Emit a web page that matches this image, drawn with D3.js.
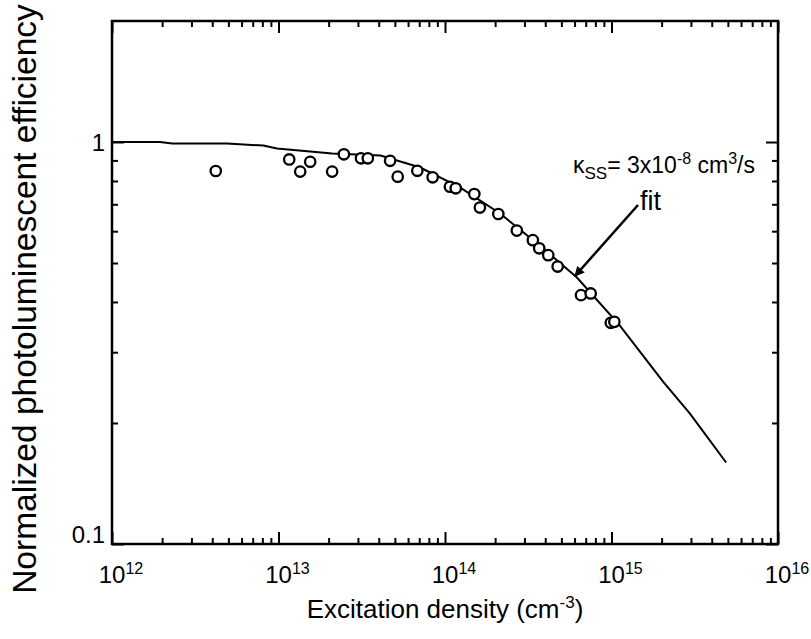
<!DOCTYPE html>
<html>
<head>
<meta charset="utf-8">
<script src="https://cdn.jsdelivr.net/npm/d3@7"></script>
<style>
  body { margin: 0; background: #fff; }
  text { font-family: "Liberation Sans", Arial, Helvetica, sans-serif; fill: #000; }
</style>
</head>
<body>
<div id="chart"></div>
<script>
// measured points
var density = [4.2e12, 1.16e13, 1.35e13, 1.55e13, 2.1e13, 2.47e13, 3.13e13, 3.44e13, 4.68e13, 5.2e13,
               6.82e13, 8.43e13, 1.07e14, 1.16e14, 1.5e14, 1.62e14, 2.09e14, 2.7e14, 3.37e14, 3.68e14,
               4.17e14, 4.75e14, 6.56e14, 7.5e14, 9.9e14, 1.04e15];
var efficiency = [0.847, 0.905, 0.844, 0.893, 0.844, 0.932, 0.911, 0.911, 0.898, 0.820,
                  0.848, 0.817, 0.774, 0.767, 0.742, 0.687, 0.662, 0.602, 0.570, 0.544,
                  0.523, 0.490, 0.416, 0.420, 0.355, 0.357];

// fit curve
var fitDensity = [1e12, 1.94e12, 2.3e12, 4.9e12, 8.1e12, 9.8e12, 2.1e13, 4.1e13, 7.1e13, 1.23e14,
                  2.14e14, 3.7e14, 6.2e14, 1.12e15, 2.04e15, 2.96e15, 4.88e15];
var fitEfficiency = [1.0, 1.0, 0.991, 0.991, 0.980, 0.963, 0.936, 0.926, 0.864, 0.771,
                     0.664, 0.553, 0.460, 0.350, 0.2535, 0.211, 0.1595];

var xExponents = [12, 13, 14, 15, 16];
var yMajor = [0.1, 1];
var yLabels = ["0.1", "1"];

var margin = { top: 21, right: 33, bottom: 95, left: 112 },
    W = 811, H = 639,
    width = W - margin.left - margin.right,
    height = H - margin.top - margin.bottom;

var svg = d3.select("#chart").append("svg")
    .attr("width", W).attr("height", H);

var g = svg.append("g")
    .attr("transform", "translate(" + margin.left + "," + margin.top + ")");

var x = d3.scaleLog().domain([1e12, 1e16]).range([0, width]);
var y = d3.scaleLog().domain([0.1, 2]).range([height, 0]);

var xMajor = xExponents.map(function (e) { return Math.pow(10, e); });
var xMinor = [];
for (var e = 12; e < 16; e++) {
    for (var k = 2; k <= 9; k++) xMinor.push(k * Math.pow(10, e));
}
var yMinor = [0.2, 0.3, 0.4, 0.5, 0.6, 0.7, 0.8, 0.9];

// inward ticks on all four sides
function tickSet(axisFn, scale, values, size, transform) {
    var a = g.append("g")
        .attr("transform", transform)
        .call(axisFn(scale).tickValues(values).tickSize(size).tickFormat(""));
    a.select(".domain").remove();
    a.selectAll("line").attr("stroke", "#000").attr("stroke-width", 2);
}
tickSet(d3.axisBottom, x, xMinor, -6, "translate(0," + height + ")");
tickSet(d3.axisBottom, x, xMajor, -12, "translate(0," + height + ")");
tickSet(d3.axisTop, x, xMinor, -6, "translate(0,0)");
tickSet(d3.axisTop, x, xMajor, -12, "translate(0,0)");
tickSet(d3.axisLeft, y, yMinor, -6, "translate(0,0)");
tickSet(d3.axisLeft, y, yMajor, -12, "translate(0,0)");
tickSet(d3.axisRight, y, yMinor, -6, "translate(" + width + ",0)");
tickSet(d3.axisRight, y, yMajor, -12, "translate(" + width + ",0)");

// frame
g.append("rect")
    .attr("x", 0).attr("y", 0)
    .attr("width", width).attr("height", height)
    .attr("fill", "none").attr("stroke", "#000").attr("stroke-width", 2.5);

// x tick labels 10^n
xExponents.forEach(function (e) {
    var t = g.append("text")
        .attr("x", x(Math.pow(10, e)) + 9)
        .attr("y", height + 39)
        .attr("text-anchor", "middle")
        .style("font-size", "24px");
    t.append("tspan").text("10");
    t.append("tspan").attr("dy", "-9").style("font-size", "16px").text(e);
});

// y tick labels
yMajor.forEach(function (v, i) {
    g.append("text")
        .attr("x", -7)
        .attr("y", v === 0.1 ? y(v) - 1 : y(v) + 9)
        .attr("text-anchor", "end")
        .style("font-size", "24px")
        .text(yLabels[i]);
});

// axis labels
var xl = svg.append("text")
    .attr("x", 445).attr("y", 618)
    .attr("text-anchor", "middle")
    .style("font-size", "26px");
xl.append("tspan").text("Excitation density (cm");
xl.append("tspan").attr("dy", "-10").style("font-size", "17px").text("-3");
xl.append("tspan").attr("dy", "10").text(")");

svg.append("text")
    .attr("transform", "translate(36,299) rotate(-90)")
    .attr("text-anchor", "middle")
    .style("font-size", "33.5px")
    .text("Normalized photoluminescent efficiency");

// fit line
var fitData = fitDensity.map(function (d, i) { return [d, fitEfficiency[i]]; });
g.append("path")
    .datum(fitData)
    .attr("fill", "none")
    .attr("stroke", "#000")
    .attr("stroke-width", 2)
    .attr("d", d3.line()
        .x(function (d) { return x(d[0]); })
        .y(function (d) { return y(d[1]); }));

// measured circles
g.selectAll("circle.pt")
    .data(density)
    .join("circle")
    .attr("class", "pt")
    .attr("cx", function (d) { return x(d); })
    .attr("cy", function (d, i) { return y(efficiency[i]); })
    .attr("r", 5.2)
    .attr("fill", "#fff")
    .attr("stroke", "#000")
    .attr("stroke-width", 2.3);

// annotation
var ann = svg.append("text")
    .attr("x", 573).attr("y", 173)
    .style("font-size", "23px");
ann.append("tspan").text("\u03ba");
ann.append("tspan").attr("dy", "6").style("font-size", "17px").text("SS");
ann.append("tspan").attr("dy", "-6").text("= 3x10");
ann.append("tspan").attr("dy", "-9").style("font-size", "16px").text("-8");
ann.append("tspan").attr("dy", "9").text(" cm");
ann.append("tspan").attr("dy", "-9").style("font-size", "16px").text("3");
ann.append("tspan").attr("dy", "9").text("/s");

svg.append("text")
    .attr("x", 640).attr("y", 210)
    .style("font-size", "27px")
    .text("fit");

// arrow
svg.append("defs").append("marker")
    .attr("id", "head")
    .attr("viewBox", "0 0 10 10")
    .attr("refX", 9).attr("refY", 5)
    .attr("markerWidth", 11).attr("markerHeight", 10)
    .attr("markerUnits", "userSpaceOnUse")
    .attr("orient", "auto")
    .append("path").attr("d", "M0,0 L10,5 L0,10 Z").attr("fill", "#000");

svg.append("line")
    .attr("x1", 638).attr("y1", 205)
    .attr("x2", 575).attr("y2", 276)
    .attr("stroke", "#000").attr("stroke-width", 2.5)
    .attr("marker-end", "url(#head)");
</script>
</body>
</html>
